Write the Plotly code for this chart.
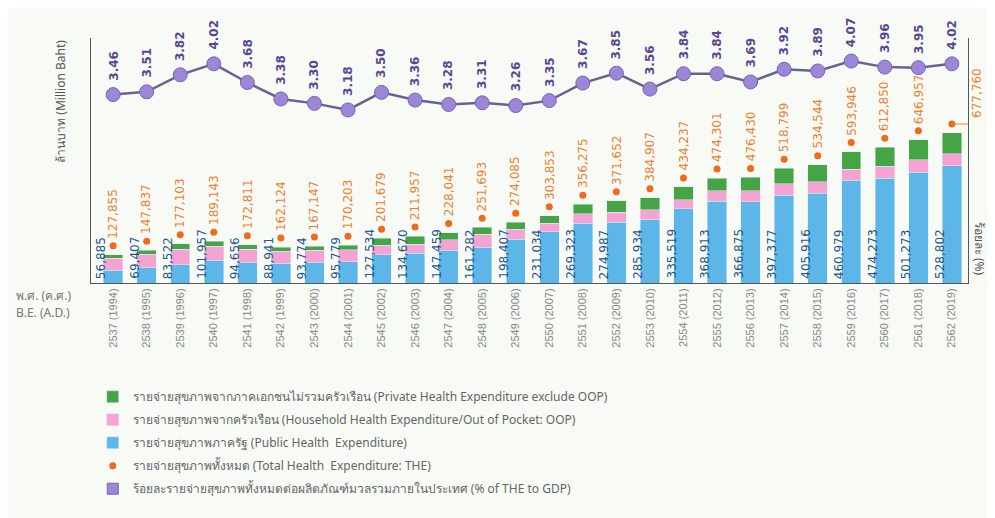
import plotly.graph_objects as go

tick_labels = ["2537 (1994)", "2538 (1995)", "2539 (1996)", "2540 (1997)", "2541 (1998)",
               "2542 (1999)", "2543 (2000)", "2544 (2001)", "2545 (2002)", "2546 (2003)",
               "2547 (2004)", "2548 (2005)", "2549 (2006)", "2550 (2007)", "2551 (2008)",
               "2552 (2009)", "2553 (2010)", "2554 (2011)", "2555 (2012)", "2556 (2013)",
               "2557 (2014)", "2558 (2015)", "2559 (2016)", "2560 (2017)", "2561 (2018)",
               "2562 (2019)"]

public_exp = [56885, 69407, 83522, 101957, 94656, 88941, 93774, 95779, 127534, 134670,
              147459, 161282, 198407, 231034, 269323, 274987, 285934, 335519, 368913, 366875,
              397377, 405916, 460979, 474273, 501273, 528802]
oop_exp = [55000, 60000, 70000, 65000, 58000, 55000, 55000, 55000, 44000, 40000,
           47000, 60000, 44000, 40000, 43000, 45000, 45000, 40000, 48000, 50000,
           50000, 52000, 53000, 54000, 55000, 55000]
private_exp = [16000, 18000, 24000, 22000, 20000, 18000, 18000, 19000, 30000, 37000,
               33000, 30000, 32000, 33000, 44000, 52000, 54000, 59000, 57000, 60000,
               71000, 77000, 80000, 85000, 91000, 94000]
the_total = [127855, 147837, 177103, 189143, 172811, 162124, 167147, 170203, 201679, 211957,
             228041, 251693, 274085, 303853, 356275, 371652, 384907, 434237, 474301, 476430,
             518799, 534544, 593946, 612850, 646957, 677760]
gdp_pct = [3.46, 3.51, 3.82, 4.02, 3.68, 3.38, 3.30, 3.18, 3.50, 3.36, 3.28, 3.31, 3.26,
           3.35, 3.67, 3.85, 3.56, 3.84, 3.84, 3.69, 3.92, 3.89, 4.07, 3.96, 3.95, 4.02]

legend_names = [
    "รายจ่ายสุขภาพจากภาคเอกชนไม่รวมครัวเรือน (Private Health Expenditure exclude OOP)",
    "รายจ่ายสุขภาพจากครัวเรือน (Household Health Expenditure/Out of Pocket: OOP)",
    "รายจ่ายสุขภาพภาครัฐ (Public Health  Expenditure)",
    "รายจ่ายสุขภาพทั้งหมด (Total Health  Expenditure: THE)",
    "ร้อยละรายจ่ายสุขภาพทั้งหมดต่อผลิตภัณฑ์มวลรวมภายในประเทศ (% of THE to GDP)",
]

C_BLUE = "#5db6e8"
C_PINK = "#f4a3d3"
C_GREEN = "#45a443"
C_ORANGE = "#f06a1e"
C_PURPLE = "#9c86d8"
NUM_FONT = "DejaVu Sans"

fig = go.Figure()
fig.add_trace(go.Bar(x=tick_labels, y=public_exp, name=legend_names[2], marker_color=C_BLUE,
                     width=0.58, legendrank=3, legendgroup="c"))
fig.add_trace(go.Bar(x=tick_labels, y=oop_exp, name=legend_names[1], marker_color=C_PINK,
                     width=0.58, legendrank=2, legendgroup="b"))
fig.add_trace(go.Bar(x=tick_labels, y=private_exp, name=legend_names[0], marker_color=C_GREEN,
                     width=0.58, legendrank=1, legendgroup="a"))
fig.add_trace(go.Scatter(x=tick_labels, y=the_total, yaxis="y3", mode="markers",
                         name=legend_names[3], marker=dict(color=C_ORANGE, size=7),
                         legendrank=4, legendgroup="d"))
fig.add_trace(go.Scatter(x=tick_labels, y=gdp_pct, yaxis="y2", mode="lines+markers",
                         showlegend=False,
                         line=dict(color="#6d6090", width=2.5),
                         marker=dict(color=C_PURPLE, size=14, line=dict(color="#7a62b6", width=1))))
fig.add_trace(go.Scatter(x=[None], y=[None], yaxis="y2", mode="markers", name=legend_names[4],
                         marker=dict(color=C_PURPLE, size=11, symbol="square",
                                     line=dict(color="#7a62b6", width=1)),
                         legendrank=5, legendgroup="e"))

annotations = []
for cat, v in zip(tick_labels, public_exp):
    annotations.append(dict(x=cat, y=0, xref="x", yref="y", text=f"{v:,}", showarrow=False,
                            textangle=-90, xanchor="center", yanchor="bottom", xshift=-12, yshift=2,
                            font=dict(family=NUM_FONT, size=12, color="#22578f")))
for cat, v in zip(tick_labels[:-1], the_total[:-1]):
    annotations.append(dict(x=cat, y=v, xref="x", yref="y3", text=f"{v:,}", showarrow=False,
                            textangle=-90, xanchor="center", yanchor="bottom", yshift=5,
                            font=dict(family=NUM_FONT, size=12, color="#ef7f30")))
annotations.append(dict(x=tick_labels[-1], y=the_total[-1], xref="x", yref="y3",
                        text=f"{the_total[-1]:,}", showarrow=False, textangle=-90,
                        xanchor="center", yanchor="bottom", xshift=25, yshift=4,
                        font=dict(family=NUM_FONT, size=12, color="#ef7f30")))
for cat, v in zip(tick_labels, gdp_pct):
    annotations.append(dict(x=cat, y=v, xref="x", yref="y2", text=f"<b>{v:.2f}</b>", showarrow=False,
                            textangle=-90, xanchor="center", yanchor="bottom", yshift=12,
                            font=dict(family=NUM_FONT, size=12, color="#5a4694")))

annotations += [
    dict(x=-0.035, y=1.0, xref="paper", yref="paper", text="ล้านบาท (Million Baht)", showarrow=False,
         textangle=-90, xanchor="center", yanchor="top", font=dict(size=12, color="#555")),
    dict(x=1.014, y=0.02, xref="paper", yref="paper", text="ร้อยละ (%)", showarrow=False,
         textangle=90, xanchor="center", yanchor="bottom", font=dict(size=12, color="#555")),
    dict(x=-0.088, y=-0.049, xref="paper", yref="paper", text="พ.ศ. (ค.ศ.)", showarrow=False,
         xanchor="left", yanchor="middle", font=dict(size=12, color="#777")),
    dict(x=-0.088, y=-0.122, xref="paper", yref="paper", text="B.E. (A.D.)", showarrow=False,
         xanchor="left", yanchor="middle", font=dict(size=12, color="#777")),
]

shapes = [dict(type="line", xref="x", yref="y3", xsizemode="pixel", xanchor=tick_labels[-1],
               x0=0, x1=28, y0=the_total[-1], y1=the_total[-1],
               line=dict(color="#ef7f30", width=1))]

fig.update_layout(
    width=995, height=518,
    margin=dict(l=83, r=35, t=30, b=243, autoexpand=False),
    barmode="stack",
    paper_bgcolor="#f7faf5", plot_bgcolor="rgba(0,0,0,0)",
    font=dict(family="Noto Sans, DejaVu Sans, sans-serif", color="#555"),
    xaxis=dict(type="category", range=[-0.66, 25.48], showline=True, linecolor="#555",
               ticks="", tickangle=-90, showgrid=False,
               tickfont=dict(family="Liberation Sans Narrow, Liberation Sans", size=11, color="#888")),
    yaxis=dict(range=[0, 1107000], showline=True, linecolor="#555", showticklabels=False,
               showgrid=False, zeroline=False, ticks=""),
    yaxis2=dict(overlaying="y", side="right", range=[0.03, 4.49], showline=True, linecolor="#555",
                showticklabels=False, showgrid=False, zeroline=False, ticks=""),
    yaxis3=dict(overlaying="y", range=[-40680, 1066320], visible=False),
    legend=dict(xref="paper", yref="paper", x=0.002, y=-0.405, xanchor="left", yanchor="top",
                traceorder="grouped", tracegroupgap=4, bgcolor="rgba(0,0,0,0)",
                font=dict(size=12, color="#666")),
    annotations=annotations,
    shapes=shapes,
)

fig.write_html("out.html")
